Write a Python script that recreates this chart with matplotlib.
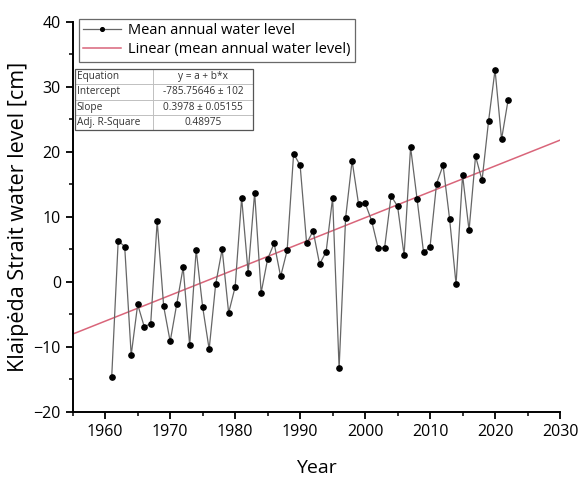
"""
    Klaipeda Strait mean annual water level with linear fit
"""

import numpy as np
import matplotlib
matplotlib.use("Agg")
import matplotlib.pyplot as plt
from matplotlib.ticker import MultipleLocator

#####################################################################################################

years = list(range(1961, 2023))
water_level = [
    -14.7, 6.3, 5.4, -11.3, -3.5, -6.9, -6.5, 9.3, -3.8, -9.2,
    -3.5, 2.2, -9.8, 4.9, -3.9, -10.4, -0.4, 5.0, -4.8, -0.8,
    12.9, 1.4, 13.7, -1.7, 3.5, 5.9, 0.8, 4.8, 19.7, 17.9,
    5.9, 7.8, 2.7, 4.6, 12.9, -13.3, 9.8, 18.6, 11.9, 12.1,
    9.4, 5.2, 5.2, 13.2, 11.6, 4.1, 20.7, 12.7, 4.5, 5.4,
    15.1, 17.9, 9.7, -0.4, 16.4, 7.9, 19.3, 15.6, 24.7, 32.6,
    21.9, 27.9,
]

intercept = -785.75646
slope = 0.3978
fit_years = [1955, 2030]

table_rows = [
    ["Equation", "y = a + b*x"],
    ["Intercept", "-785.75646 \u00b1 102"],
    ["Slope", "0.3978 \u00b1 0.05155"],
    ["Adj. R-Square", "0.48975"],
]

#####################################################################################################

def run():
    plt.rcParams["font.family"] = ["Open Sans", "DejaVu Sans"]

    fig = plt.figure(figsize=(5.78, 4.8), dpi=100)
    ax = fig.add_axes([0.1258, 0.1423, 0.8431, 0.8125])

    fit_x = np.array(fit_years)
    fit_y = intercept + slope * fit_x

    ax.plot(years, water_level, color="#666666", lw=0.9, marker="o",
            markersize=3.8, markerfacecolor="black", markeredgecolor="black",
            label="Mean annual water level", zorder=3)
    ax.plot(fit_x, fit_y, color="#d9657a", lw=1.1,
            label="Linear (mean annual water level)", zorder=2)

    ax.set_xlim(1955, 2030)
    ax.set_ylim(-20, 40)
    ax.xaxis.set_major_locator(MultipleLocator(10))
    ax.xaxis.set_minor_locator(MultipleLocator(5))
    ax.yaxis.set_major_locator(MultipleLocator(10))
    ax.yaxis.set_minor_locator(MultipleLocator(5))

    for side in ["top", "right"]:
        ax.spines[side].set_visible(False)
    for side in ["left", "bottom"]:
        ax.spines[side].set_linewidth(1.4)

    ax.tick_params(which="major", length=5, width=1.3, labelsize=11.5)
    ax.tick_params(which="minor", length=3, width=1.1)

    ax.set_xlabel("Year", fontsize=14, labelpad=14)
    ax.set_ylabel("Klaip\u0117da Strait water level [cm]", fontsize=15.5, labelpad=3)

    leg = ax.legend(loc="upper left", bbox_to_anchor=(0.012, 1.008), fontsize=10.5,
                    frameon=True, fancybox=False, handlelength=2.6, borderpad=0.3,
                    labelspacing=0.3, handletextpad=0.5, borderaxespad=0,
                    markerscale=0.7)
    leg.get_frame().set_edgecolor("#444444")
    leg.get_frame().set_linewidth(0.9)

    tbl = ax.table(cellText=table_rows, cellLoc="center", colWidths=[0.44, 0.56],
                   bbox=[0.005, 0.722, 0.365, 0.157], zorder=5)
    tbl.auto_set_font_size(False)
    for (r, c), cell in tbl.get_celld().items():
        cell.set_edgecolor("#bbbbbb")
        cell.set_linewidth(0.6)
        cell.set_text_props(fontsize=7.3, color="#333333")
        if c == 0:
            cell.set_text_props(ha="left")
            cell._loc = "left"
            cell.PAD = 0.02

    frame = plt.Rectangle((0.005, 0.722), 0.365, 0.157, transform=ax.transAxes,
                          fill=False, edgecolor="#555555", lw=0.9, zorder=6)
    ax.add_patch(frame)

    fig.savefig("out.png", dpi=100)

#####################################################################################################

if __name__ == "__main__":
    run()
